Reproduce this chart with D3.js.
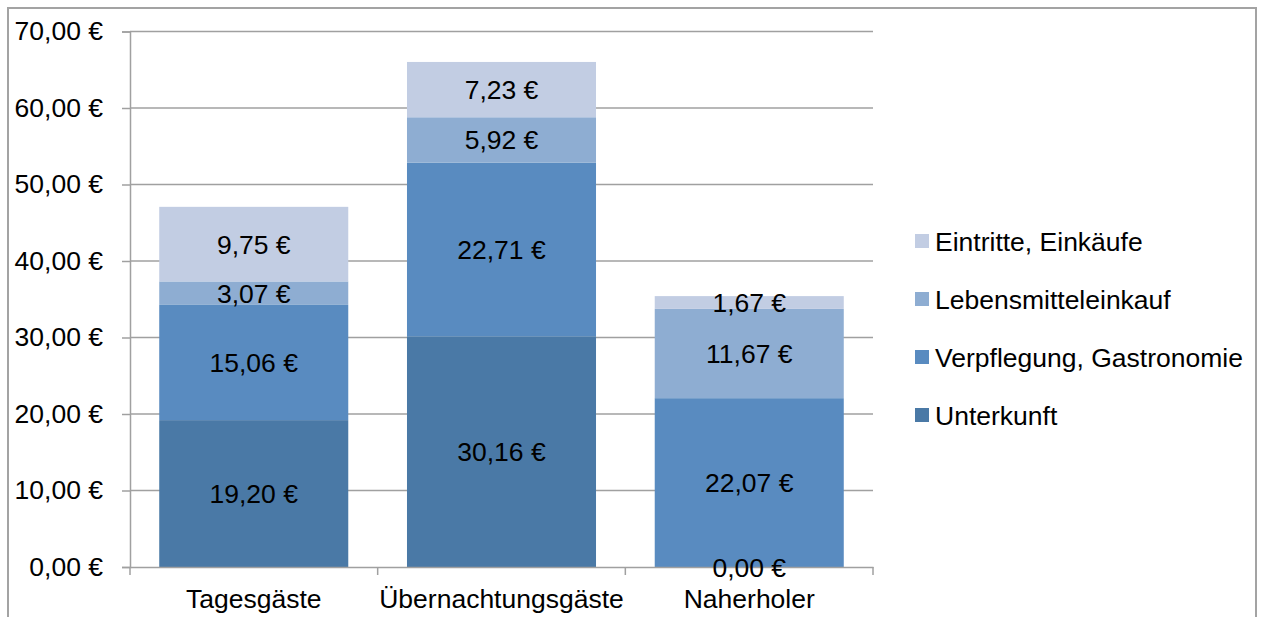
<!DOCTYPE html>
<html>
<head>
<meta charset="utf-8">
<script src="https://cdn.jsdelivr.net/npm/d3@7"></script>
<style>
	body { margin: 0; background: #fff; }
	svg text { font-family: "Liberation Sans", Arial, sans-serif; fill: #000; }
</style>
</head>
<body>
<div id="chart"></div>
<script>
// data
const categories = ['Tagesgäste', 'Übernachtungsgäste', 'Naherholer'];
const seriesNames = ['Unterkunft', 'Verpflegung, Gastronomie', 'Lebensmitteleinkauf', 'Eintritte, Einkäufe'];
const unterkunft = [19.20, 30.16, 0.00];
const verpflegung = [15.06, 22.71, 22.07];
const lebensmittel = [3.07, 5.92, 11.67];
const eintritte = [9.75, 7.23, 1.67];
const yTicks = [0, 10, 20, 30, 40, 50, 60, 70];
const colors = ['#4a79a6', '#598bc0', '#8eadd2', '#c2cde3'];

const W = 1262, H = 617;
const FS = 26.5;
const margin = { left: 130, right: 389, top: 31.5, bottom: 50 };

const table = categories.map((c, i) => ({
	cat: c,
	'Unterkunft': unterkunft[i],
	'Verpflegung, Gastronomie': verpflegung[i],
	'Lebensmitteleinkauf': lebensmittel[i],
	'Eintritte, Einkäufe': eintritte[i]
}));

const stacked = d3.stack().keys(seriesNames)(table);

const svg = d3.select('#chart').append('svg')
	.attr('width', W)
	.attr('height', H);

// outer frame
svg.append('rect')
	.attr('x', 8).attr('y', 8)
	.attr('width', 1248).attr('height', 640)
	.attr('fill', 'none')
	.attr('stroke', '#a3a3a3')
	.attr('stroke-width', 2);

const x = d3.scaleBand()
	.domain(categories)
	.range([margin.left, W - margin.right])
	.paddingInner(0.237)
	.paddingOuter(0.118);

const y = d3.scaleLinear()
	.domain([0, 70])
	.range([567, margin.top]);

// gridlines
svg.append('g')
	.selectAll('line')
	.data(yTicks.filter(t => t > 0))
	.enter().append('line')
	.attr('x1', margin.left).attr('x2', W - margin.right)
	.attr('y1', d => y(d)).attr('y2', d => y(d))
	.attr('stroke', '#a0a0a0')
	.attr('stroke-width', 1.5);

// bars
svg.append('g')
	.selectAll('g')
	.data(stacked)
	.enter().append('g')
	.attr('fill', (d, i) => colors[i])
	.selectAll('rect')
	.data(d => d)
	.enter().append('rect')
	.attr('x', d => x(d.data.cat))
	.attr('y', d => y(d[1]))
	.attr('width', x.bandwidth())
	.attr('height', d => y(d[0]) - y(d[1]));

// y axis
const yAxis = svg.append('g')
	.attr('transform', `translate(${margin.left},0)`)
	.call(d3.axisLeft(y).tickValues(yTicks).tickSize(8).tickPadding(19)
		.tickFormat(d => d3.format('.2f')(d).replace('.', ',') + ' €'));
yAxis.select('.domain').attr('stroke', '#a0a0a0').attr('stroke-width', 1.5);
yAxis.selectAll('.tick line').attr('stroke', '#a0a0a0').attr('stroke-width', 1.5);
yAxis.selectAll('text').attr('font-size', FS).attr('font-family', '"Liberation Sans", Arial, sans-serif');

// x axis
const xAxis = svg.append('g')
	.attr('transform', `translate(0,${y(0)})`)
	.call(d3.axisBottom(x).tickSize(0).tickPadding(22));
xAxis.select('.domain').attr('stroke', '#a0a0a0').attr('stroke-width', 1.5);
xAxis.selectAll('text').attr('font-size', FS).attr('font-family', '"Liberation Sans", Arial, sans-serif');

// category boundary ticks
const bounds = d3.range(categories.length + 1).map(i => margin.left + i * (W - margin.right - margin.left) / categories.length);
svg.append('g')
	.selectAll('line')
	.data(bounds)
	.enter().append('line')
	.attr('x1', d => d).attr('x2', d => d)
	.attr('y1', y(0)).attr('y2', y(0) + 8)
	.attr('stroke', '#a0a0a0')
	.attr('stroke-width', 1.5);

// value labels
svg.append('g')
	.selectAll('g')
	.data(stacked)
	.enter().append('g')
	.selectAll('text')
	.data(d => d)
	.enter().append('text')
	.attr('x', d => x(d.data.cat) + x.bandwidth() / 2)
	.attr('y', d => y((d[0] + d[1]) / 2))
	.attr('dy', '0.36em')
	.attr('text-anchor', 'middle')
	.attr('font-size', FS)
	.text(d => d3.format('.2f')(d[1] - d[0]).replace('.', ',') + ' €');

// legend
const legendY = [415, 357, 299, 241];
const legend = svg.append('g')
	.selectAll('g')
	.data(seriesNames)
	.enter().append('g')
	.attr('transform', (d, i) => `translate(915,${legendY[i]})`);
legend.append('rect')
	.attr('x', 0).attr('y', -7)
	.attr('width', 14).attr('height', 14)
	.attr('fill', (d, i) => colors[i]);
legend.append('text')
	.attr('x', 20)
	.attr('dy', '0.36em')
	.attr('font-size', FS)
	.text(d => d);
</script>
</body>
</html>
